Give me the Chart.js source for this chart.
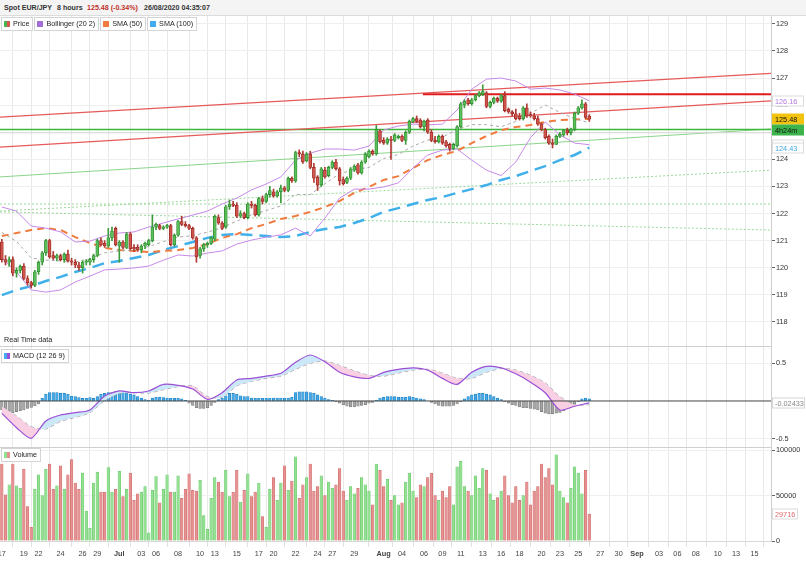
<!DOCTYPE html>
<html lang="en">
<head>
<meta charset="UTF-8">
<title>Spot EUR/JPY</title>
<script src="https://cdn.jsdelivr.net/npm/chart.js@4.4.1/dist/chart.umd.min.js"></script>
<style>
  body { margin: 0; width: 806px; height: 561px; overflow: hidden; position: relative; background: #fff;
         font-family: "Liberation Sans", Arial, sans-serif; color: #222; }
  canvas { position: absolute; left: 0; }
  .hdr { position: absolute; left: 0; top: 0; width: 806px; height: 15px; background: #f4f4f4;
         border-bottom: 1px solid #dcdcdc; font-size: 7.1px; font-weight: bold; line-height: 16px; color: #333; z-index: 3; }
  .hdr span { position: absolute; top: 0; }
  .lgrow { position: absolute; left: 1px; display: flex; gap: 1px; z-index: 3; }
  .lg { height: 12px; border: 1px solid #d4d4d4; background: #fff; font-size: 7.2px; line-height: 12px;
        padding: 0 3px 0 2px; display: flex; align-items: center; color: #222; }
  .ic { width: 6px; height: 6px; margin-right: 3px; display: inline-block; }
  .sep { position: absolute; left: 0; width: 771px; height: 1px; background: #cfcfcf; z-index: 2; }
  .note { position: absolute; left: 4px; top: 335px; font-size: 7.2px; color: #222; z-index: 3; }
</style>
</head>
<body>
<div class="hdr">
  <span style="left:4px">Spot EUR/JPY</span>
  <span style="left:57px">8 hours</span>
  <span style="left:87px;color:#c0302a">125.48 (-0.34%)</span>
  <span style="left:144px">26/08/2020 04:35:07</span>
</div>

<canvas id="priceChart" width="806" height="330" style="top:16px"></canvas>
<canvas id="macdChart" width="806" height="101" style="top:346px"></canvas>
<canvas id="volumeChart" width="806" height="114" style="top:447px"></canvas>

<div class="lgrow" style="top:17px">
  <span class="lg"><i class="ic" style="background:linear-gradient(90deg,#4caf50 50%,#d9534f 50%)"></i>Price</span>
  <span class="lg"><i class="ic" style="background:#a070d8"></i>Bollinger (20 2)</span>
  <span class="lg"><i class="ic" style="background:#f07b3f"></i>SMA (50)</span>
  <span class="lg"><i class="ic" style="background:#45aaf2"></i>SMA (100)</span>
</div>
<div class="note">Real Time data</div>
<div class="sep" style="top:346px"></div>
<div class="lgrow" style="top:349px">
  <span class="lg"><i class="ic" style="background:linear-gradient(90deg,#45aaf2 50%,#9b4fd6 50%)"></i>MACD (12 26 9)</span>
</div>
<div class="sep" style="top:447px"></div>
<div class="lgrow" style="top:448px">
  <span class="lg"><i class="ic" style="background:linear-gradient(90deg,#8fe08f 50%,#e59090 50%)"></i>Volume</span>
</div>

<script>
// 8-hour candles, one slot each, Jun 17 -> Aug 26 2020
const priceOpen = [
  120.95, 120.3, 120.2, 120.3, 119.8, 119.9, 120.05, 119.6, 119.45, 119.35,
  119.85, 120.2, 120.55, 121.0, 120.45, 120.35, 120.45, 120.3, 120.5, 120.25,
  120.2, 120.1, 120.0, 120.2, 120.2, 120.3, 120.45, 121.0, 120.9, 120.8,
  121.1, 121.45, 120.8, 120.95, 120.75, 121.25, 120.75, 120.75, 120.65, 120.8,
  120.85, 121.0, 121.5, 121.55, 121.45, 121.5, 121.55, 120.85, 121.2, 121.7,
  121.6, 121.55, 121.45, 121.1, 120.45, 120.7, 120.85, 120.9, 121.05, 121.85,
  121.65, 121.5, 122.25, 122.35, 122.3, 121.9, 122.0, 121.85, 122.35, 122.3,
  121.95, 122.55, 122.45, 122.7, 122.8, 122.65, 122.8, 122.95, 122.85, 123.3,
  123.2, 124.25, 124.2, 123.95, 124.2, 123.7, 123.35, 123.05, 123.6, 123.4,
  123.7, 123.9, 123.65, 123.25, 123.15, 123.3, 123.6, 123.8, 123.5, 123.9,
  124.1, 124.3, 124.2, 125.05, 124.7, 124.6, 124.75, 124.7, 124.8, 124.85,
  124.7, 125.0, 125.4, 125.5, 125.45, 125.2, 125.45, 125.0, 124.7, 124.65,
  124.85, 124.65, 124.55, 124.4, 124.5, 125.2, 126.0, 126.2, 126.05, 126.2,
  126.35, 126.4, 126.45, 125.95, 126.1, 126.25, 126.15, 126.35, 125.85, 125.75,
  125.68, 125.6, 125.5, 125.9, 125.65, 125.6, 125.5, 125.3, 125.1, 124.85,
  124.6, 124.55, 124.85, 124.9, 125.08, 124.98, 125.1, 125.7, 125.9, 126.05, 125.6
];
const priceHigh = [
  121.05, 120.45, 120.4, 120.4, 120.0, 120.1, 120.15, 119.7, 119.5, 119.9,
  120.25, 120.6, 121.05, 121.05, 120.6, 120.5, 120.5, 120.55, 120.65, 120.35,
  120.3, 120.2, 120.25, 120.3, 120.35, 120.5, 121.05, 121.1, 121.0, 121.45,
  121.5, 121.5, 121.0, 121.0, 121.3, 121.3, 120.85, 120.85, 120.85, 120.95,
  121.05, 121.95, 121.65, 121.6, 121.55, 121.6, 121.6, 121.25, 121.75, 121.9,
  121.7, 121.6, 121.5, 121.15, 120.75, 120.9, 120.95, 121.15, 121.95, 121.95,
  121.7, 122.3, 122.5, 122.45, 122.4, 122.1, 122.05, 122.4, 122.45, 122.35,
  122.6, 122.65, 122.75, 123.0, 122.9, 122.85, 123.05, 123.0, 123.35, 123.35,
  124.3, 124.35, 124.3, 124.25, 124.3, 123.85, 123.4, 123.7, 123.7, 123.75,
  123.95, 124.0, 123.7, 123.35, 123.35, 123.7, 123.8, 123.85, 123.95, 124.25,
  124.35, 124.35, 125.25, 125.1, 124.8, 124.8, 124.85, 124.95, 124.9, 124.9,
  125.05, 125.45, 125.55, 125.6, 125.5, 125.45, 125.5, 125.1, 124.85, 124.9,
  124.9, 124.7, 124.6, 124.6, 125.25, 126.1, 126.2, 126.25, 126.25, 126.4,
  126.5, 126.75, 126.5, 126.15, 126.3, 126.3, 126.4, 126.5, 125.9, 125.8,
  125.85, 125.7, 125.95, 126.05, 125.75, 125.7, 125.6, 125.35, 125.15, 124.9,
  124.75, 124.9, 125.0, 125.1, 125.15, 125.15, 125.75, 125.95, 126.2, 126.1, 125.65
];
const priceLow = [
  120.2, 120.1, 120.05, 119.7, 119.65, 119.8, 119.55, 119.35, 119.25, 119.3,
  119.75, 120.1, 120.45, 120.35, 120.3, 120.25, 120.25, 120.2, 120.2, 120.1,
  120.0, 119.9, 119.8, 120.1, 120.1, 120.2, 120.4, 120.8, 120.75, 120.75,
  121.0, 120.8, 120.2, 120.7, 120.7, 120.65, 120.6, 120.6, 120.55, 120.7,
  120.8, 120.95, 121.4, 121.4, 121.4, 121.45, 120.8, 120.8, 121.15, 121.55,
  121.5, 121.4, 121.05, 120.2, 120.35, 120.6, 120.75, 120.85, 121.0, 121.6,
  121.4, 121.45, 122.15, 122.25, 121.85, 121.85, 121.8, 121.8, 122.2, 121.9,
  121.9, 122.35, 122.4, 122.6, 122.6, 122.6, 122.4, 122.8, 122.8, 123.15,
  123.15, 124.1, 123.85, 123.9, 123.65, 123.15, 122.85, 123.0, 123.3, 123.35,
  123.65, 123.6, 123.05, 123.05, 123.1, 123.25, 123.55, 123.45, 123.45, 123.85,
  124.05, 124.15, 124.15, 124.6, 124.55, 124.55, 124.0, 124.65, 124.75, 124.65,
  124.55, 124.95, 125.35, 125.35, 125.15, 125.05, 124.95, 124.65, 124.6, 124.6,
  124.55, 124.45, 124.3, 124.35, 124.45, 125.15, 125.9, 126.0, 126.0, 126.15,
  126.3, 126.35, 125.9, 125.9, 126.05, 126.1, 126.1, 125.75, 125.7, 125.6,
  125.45, 125.45, 125.45, 125.55, 125.55, 125.45, 125.25, 125.05, 124.75, 124.55,
  124.42, 124.55, 124.8, 124.85, 124.9, 124.9, 125.05, 125.65, 125.85, 125.5, 125.4
];
const priceClose = [
  120.3, 120.2, 120.3, 119.8, 119.9, 120.05, 119.6, 119.45, 119.35, 119.85,
  120.2, 120.55, 121.0, 120.4, 120.35, 120.45, 120.3, 120.5, 120.25, 120.2,
  120.1, 120.0, 120.2, 120.25, 120.3, 120.45, 121.0, 120.85, 120.8, 121.1,
  121.35, 120.85, 120.95, 120.75, 121.25, 120.7, 120.7, 120.65, 120.8, 120.9,
  121.0, 121.5, 121.6, 121.45, 121.5, 121.55, 120.85, 121.2, 121.7, 121.6,
  121.55, 121.45, 121.1, 120.4, 120.7, 120.85, 120.9, 121.1, 121.9, 121.65,
  121.45, 122.25, 122.35, 122.3, 121.9, 122.0, 121.85, 122.35, 122.3, 121.95,
  122.55, 122.45, 122.7, 122.85, 122.65, 122.8, 122.95, 122.85, 123.3, 123.2,
  124.25, 124.2, 123.9, 124.2, 123.7, 123.3, 123.05, 123.65, 123.35, 123.7,
  123.9, 123.65, 123.2, 123.1, 123.3, 123.65, 123.75, 123.5, 123.9, 124.2,
  124.3, 124.2, 125.1, 124.65, 124.6, 124.75, 124.7, 124.9, 124.85, 124.7,
  125.0, 125.4, 125.5, 125.4, 125.2, 125.4, 125.0, 124.7, 124.65, 124.85,
  124.6, 124.5, 124.4, 124.55, 125.2, 126.05, 126.15, 126.05, 126.2, 126.35,
  126.45, 126.5, 125.95, 126.1, 126.25, 126.15, 126.35, 125.8, 125.75, 125.68,
  125.5, 125.5, 125.9, 125.6, 125.6, 125.5, 125.3, 125.1, 124.8, 124.6,
  124.55, 124.85, 124.92, 125.08, 124.98, 125.12, 125.7, 125.9, 126.05, 125.55, 125.48
];
const volume = [
  85000, 51000, 62000, 85000, 61000, 58000, 79000, 38000, 15000, 57000,
  73000, 50000, 79000, 85000, 57000, 61000, 83000, 57000, 73000, 90000,
  64000, 57000, 75000, 33000, 14000, 64000, 76000, 54000, 54000, 81000,
  54000, 57000, 77000, 49000, 57000, 75000, 45000, 52000, 54000, 60000,
  9000, 56000, 71000, 42000, 57000, 73000, 54000, 54000, 72000, 47000,
  57000, 74000, 56000, 55000, 67000, 28000, 13000, 47000, 70000, 65000,
  54000, 78000, 49000, 54000, 78000, 43000, 56000, 74000, 49000, 54000,
  64000, 27000, 15000, 57000, 70000, 45000, 64000, 83000, 56000, 66000,
  93000, 47000, 62000, 70000, 85000, 55000, 60000, 72000, 50000, 65000,
  58000, 62000, 80000, 55000, 45000, 60000, 52000, 58000, 70000, 62000,
  55000, 40000, 85000, 78000, 60000, 68000, 45000, 50000, 40000, 42000,
  65000, 75000, 55000, 48000, 62000, 60000, 70000, 75000, 50000, 45000,
  55000, 48000, 60000, 40000, 82000, 88000, 60000, 55000, 50000, 72000,
  58000, 80000, 78000, 52000, 45000, 48000, 55000, 72000, 50000, 42000,
  60000, 45000, 50000, 65000, 40000, 55000, 60000, 85000, 70000, 80000,
  62000, 95000, 55000, 48000, 42000, 58000, 82000, 75000, 52000, 78000, 29716
];
const macdHist = [
  -0.12, -0.14, -0.13, -0.155, -0.14, -0.13, -0.12, -0.1, -0.085, -0.066, -0.04,
  0.035, 0.09, 0.11, 0.11, 0.11, 0.1, 0.1, 0.09, 0.066, 0.057, 0.044, 0.035, 0.035, 0.044,
  0.035, 0.057, 0.09, 0.1, 0.11, 0.11, 0.124, 0.124, 0.124, 0.11, 0.09, 0.08, 0.057, 0.035, 0.02, 0.01,
  0.04, 0.05, 0.05, 0.045, 0.04, 0.035, 0.035, 0.035, 0.03, 0.01,
  -0.03, -0.06, -0.09, -0.1, -0.1, -0.09, -0.06, -0.02,
  0.02, 0.04, 0.07, 0.1, 0.1, 0.09, 0.07, 0.06, 0.06, 0.04, 0.035, 0.035, 0.035, 0.035,
  0.04, 0.04, 0.04, 0.04, 0.035, 0.04, 0.05, 0.11, 0.12,
  0.12, 0.12, 0.11, 0.1, 0.08, 0.06, 0.04, 0.02, 0.01, -0.01,
  -0.03, -0.05, -0.07, -0.08, -0.08, -0.07, -0.06, -0.05, -0.03, -0.02, 0.01, 0.04,
  0.05, 0.06, 0.06, 0.06, 0.05, 0.05, 0.05, 0.06, 0.05, 0.04, 0.03, 0.02, 0.0, -0.02, -0.04, -0.06, -0.07, -0.07,
  -0.07, -0.06, -0.04, -0.01, 0.03, 0.06,
  0.08, 0.09, 0.1, 0.1, 0.09, 0.08, 0.06, 0.04, 0.02,
  -0.01, -0.03, -0.05, -0.06, -0.08, -0.09, -0.09, -0.1, -0.11, -0.12, -0.14, -0.16, -0.17, -0.17,
  -0.16, -0.15, -0.13, -0.1, -0.07, -0.04, -0.01,
  0.03, 0.04, 0.03
];

// indicator lines, read every 4 slots
const sampleSlots = [0, 4, 8, 12, 16, 20, 24, 28, 32, 36, 40, 44, 48, 52, 56, 60, 64, 68, 72, 76,
  80, 84, 88, 92, 96, 100, 104, 108, 112, 116, 120, 124, 128, 132, 136, 140, 144, 148, 152, 156, 160];
const bbUpper = [122.24, 122.09, 121.54, 121.46, 121.32, 120.95, 120.98, 121.17, 121.28, 121.32,
  121.5, 121.65, 121.8, 121.94, 122.09, 122.35, 122.57, 122.87, 123.09, 123.35,
  123.97, 124.23, 124.38, 124.38, 124.34, 124.49, 125.08, 125.23, 125.3, 125.27,
  125.3, 125.82, 126.59, 126.96, 127.0, 126.89, 126.59, 126.63, 126.56, 126.41, 126.16];
const bbMiddle = [121.3, 120.97, 120.36, 120.28, 120.25, 120.21, 120.33, 120.55, 120.62, 120.65,
  120.78, 120.96, 121.13, 121.18, 121.31, 121.48, 121.72, 121.95, 122.11, 122.28,
  122.71, 122.7, 123.1, 123.47, 123.62, 123.7, 124.03, 124.18, 124.49, 124.71,
  124.82, 125.1, 125.28, 125.28, 125.2, 125.4, 125.7, 126.0, 125.73, 125.5, 125.35];
const bbLower = [120.36, 119.84, 119.18, 119.1, 119.18, 119.47, 119.69, 119.92, 119.95, 119.99,
  120.06, 120.28, 120.47, 120.43, 120.54, 120.62, 120.87, 121.02, 121.13, 121.21,
  121.46, 121.17, 121.83, 122.57, 122.9, 122.9, 122.98, 123.13, 123.68, 124.16,
  124.34, 124.38, 123.97, 123.6, 123.4, 123.9, 124.8, 125.38, 124.9, 124.6, 124.54];
const sma50 = [121.17, 121.28, 121.39, 121.46, 121.39, 121.13, 120.91, 120.73, 120.65, 120.62,
  120.58, 120.62, 120.65, 120.73, 120.87, 121.1, 121.24, 121.46, 121.61, 121.8,
  121.91, 122.06, 122.24, 122.46, 122.76, 122.98, 123.24, 123.38, 123.68, 123.97,
  124.16, 124.31, 124.6, 124.86, 125.08, 125.19, 125.27, 125.38, 125.45, 125.47, 125.49];
const sma100 = [118.99, 119.18, 119.32, 119.51, 119.66, 119.84, 119.99, 120.17, 120.25, 120.36,
  120.47, 120.65, 120.8, 120.95, 121.1, 121.21, 121.24, 121.21, 121.17, 121.13,
  121.17, 121.32, 121.43, 121.5, 121.65, 121.83, 122.06, 122.2, 122.35, 122.5,
  122.61, 122.76, 122.9, 123.05, 123.24, 123.38, 123.57, 123.75, 123.97, 124.16, 124.43];
const macdLine = [-0.164, -0.354, -0.495, -0.265, -0.186, -0.155, -0.119, 0.066, 0.133, 0.11,
  0.133, 0.221, 0.208, 0.159, 0.022, 0.11, 0.279, 0.3, 0.33, 0.367,
  0.513, 0.61, 0.52, 0.38, 0.32, 0.3, 0.38, 0.42, 0.44, 0.41,
  0.3, 0.22, 0.38, 0.46, 0.44, 0.36, 0.25, 0.11, -0.12, -0.07, -0.024];
const macdSignal = [-0.07, -0.2, -0.34, -0.37, -0.27, -0.217, -0.155, 0.004, 0.1, 0.11,
  0.106, 0.15, 0.19, 0.2, 0.057, 0.049, 0.2, 0.26, 0.3, 0.33,
  0.42, 0.5, 0.53, 0.47, 0.4, 0.34, 0.33, 0.37, 0.41, 0.42,
  0.37, 0.3, 0.3, 0.38, 0.43, 0.41, 0.34, 0.24, 0.06, -0.05, -0.05];

// drawn trend lines: [slotFrom, priceFrom, slotTo, priceTo]
const redChannelTop = [-0.5, 125.56, 209.5, 127.17];
const redChannelBottom = [-0.5, 124.45, 209.5, 126.16];
const redResistance = [114.7, 126.4, 209.5, 126.4];
const greenLevel = [-0.5, 125.1, 209.5, 125.1];
const greyLevel = [-0.5, 124.98, 209.5, 124.98];
const greenTrend = [-0.5, 123.35, 209.5, 125.12];
const dottedRise = [-0.5, 122.09, 209.5, 123.6];
const dottedFlat = [-0.5, 122.35, 209.5, 122.35];
const dottedFall = [-0.5, 122.06, 209.5, 121.39];

const xTickSlots = [0, 6, 10, 16, 22, 26, 32, 38, 42, 48, 54, 58, 64, 70, 74, 80, 86, 90, 96,
  104, 109, 115, 120, 125, 131, 136, 141, 147, 152, 157, 163, 168, 173, 179, 184, 189, 195, 200, 205];
const xTickLabels = ['17', '19', '22', '24', '26', '29', 'Jul', '03', '06', '08', '10', '13', '15', '17', '20', '22', '24', '27', '29',
  'Aug', '04', '06', '09', '11', '13', '16', '18', '20', '23', '25', '27', '30', 'Sep', '03', '06', '08', '10', '13', '15'];
const priceTicks = [118, 119, 120, 121, 122, 123, 124, 125, 126, 127, 128, 129];
const macdTicks = [-0.5, 0.5];
const volumeTicks = [0, 50000, 100000];

const FONT = '"Liberation Sans", Arial, sans-serif';
const X_MIN = -0.5, X_MAX = 209.5;

const up = priceClose.map((c, i) => c >= priceOpen[i]);
const pts = arr => sampleSlots.map((s, i) => ({ x: s, y: arr[i] }));
const seg = a => [{ x: a[0], y: a[1] }, { x: a[2], y: a[3] }];

function xAxis(showLabels) {
  return {
    type: 'linear', min: X_MIN, max: X_MAX, offset: false,
    afterBuildTicks: s => { s.ticks = xTickSlots.map(v => ({ value: v })); },
    afterFit: s => { s.paddingLeft = 0; s.paddingRight = 0; s.height = showLabels ? 20 : 0; },
    grid: { color: '#e8e8e8', drawTicks: showLabels, tickLength: 6, tickColor: '#e2e2e2' },
    border: { display: showLabels, color: '#d8d8d8' },
    ticks: {
      display: showLabels, autoSkip: false, maxRotation: 0, padding: 3, color: '#444',
      font: c => ({ family: FONT, size: 7.3, weight: /^[A-Z]/.test(xTickLabels[c.index] || '') ? 'bold' : 'normal' }),
      callback: (v, i) => xTickLabels[i]
    }
  };
}

function yAxis(min, max, tickVals) {
  return {
    position: 'right', min, max,
    afterBuildTicks: s => { s.ticks = tickVals.map(v => ({ value: v })); },
    afterFit: s => { s.width = 35; s.paddingTop = 0; s.paddingBottom = 0; },
    grid: { color: '#efefef', drawTicks: true, tickLength: 4, tickColor: '#666' },
    border: { color: '#cfcfcf' },
    ticks: { padding: 1, color: '#333', font: { family: FONT, size: 7.3 }, callback: v => String(v) }
  };
}

function badges(items) {
  return {
    id: 'badges',
    afterDraw(chart) {
      const ctx = chart.ctx, sc = chart.scales.y, x = chart.chartArea.right + 1;
      ctx.save();
      ctx.font = '7.3px ' + FONT;
      ctx.textBaseline = 'middle';
      items.forEach(b => {
        const y = Math.round(sc.getPixelForValue(b.value));
        const w = b.w || 32;
        ctx.fillStyle = b.bg;
        ctx.fillRect(x, y - 5.5, w, 11);
        if (b.border) {
          ctx.strokeStyle = b.border; ctx.lineWidth = 1;
          ctx.strokeRect(x + 0.5, y - 5, w - 1, 10);
        }
        ctx.fillStyle = b.color;
        ctx.fillText(b.text, x + 3, y + 0.5);
      });
      ctx.restore();
    }
  };
}

const common = {
  responsive: false, animation: false, events: [],
  layout: { padding: 0 },
  plugins: { legend: { display: false }, tooltip: { enabled: false } }
};

const lineDs = (data, color, width, dash) => ({
  type: 'line', data, borderColor: color, borderWidth: width, borderDash: dash || [],
  pointRadius: 0, fill: false, tension: 0
});

// price pane
new Chart(document.getElementById('priceChart'), {
  type: 'bar',
  data: {
    datasets: [
      { data: priceOpen.map((o, i) => ({ x: i, y: [o, priceClose[i]] })), grouped: false,
        barThickness: 3, minBarLength: 1, borderWidth: 0.8, borderSkipped: false,
        backgroundColor: up.map(u => u ? '#5cbf5c' : '#d0544c'),
        borderColor: up.map(u => u ? '#2e8b2e' : '#9c2a24') },
      { data: priceHigh.map((h, i) => ({ x: i, y: [priceLow[i], h] })), grouped: false,
        barThickness: 1, borderWidth: 0,
        backgroundColor: up.map(u => u ? '#3d9b3d' : '#b03a33') },
      lineDs(pts(bbUpper), '#c68ae8', 1),
      lineDs(pts(bbLower), '#c68ae8', 1),
      lineDs(pts(bbMiddle), '#a9a9a9', 1, [3, 3]),
      lineDs(pts(sma50), '#f07b3f', 2, [7, 5]),
      lineDs(pts(sma100), '#3fb0ea', 2.5, [12, 7]),
      lineDs(seg(redResistance), '#e01b1b', 2),
      lineDs(seg(redChannelTop), '#e65a5a', 1.2),
      lineDs(seg(redChannelBottom), '#e65a5a', 1.2),
      lineDs(seg(greenLevel), '#3cb83c', 1.5),
      lineDs(seg(greyLevel), '#d6d6d6', 1),
      lineDs(seg(greenTrend), '#8ad48a', 1),
      lineDs(seg(dottedRise), '#9ad89a', 1, [2, 2]),
      lineDs(seg(dottedFlat), '#9ad89a', 1, [2, 2]),
      lineDs(seg(dottedFall), '#9ad89a', 1, [2, 2])
    ]
  },
  options: Object.assign({}, common, {
    scales: { x: xAxis(false), y: yAxis(117.11, 129.29, priceTicks) }
  }),
  plugins: [badges([
    { value: 126.16, text: '126.16', color: '#b57be0', bg: '#fff', border: '#dcdcdc' },
    { value: 125.48, text: '125.48', color: '#111', bg: '#f2c40f' },
    { value: 125.08, text: '4h24m', color: '#111', bg: '#3cb44b' },
    { value: 124.54, text: '124.54', color: '#b57be0', bg: '#fff', border: '#dcdcdc' },
    { value: 124.43, text: '124.43', color: '#3fa6e0', bg: '#fff', border: '#dcdcdc' }
  ])]
});

// MACD pane
new Chart(document.getElementById('macdChart'), {
  type: 'bar',
  data: {
    datasets: [
      lineDs(seg([X_MIN, 0, X_MAX, 0]), '#444', 1),
      Object.assign(lineDs(pts(macdLine), '#9b4fd6', 1.2),
        { fill: { target: 2, above: '#cbe8f8', below: '#f9d0e3' }, tension: 0.25 }),
      Object.assign(lineDs(pts(macdSignal), '#9a9a9a', 1, [4, 3]), { tension: 0.25 }),
      { data: macdHist.map((v, i) => ({ x: i, y: v })), barThickness: 2.6, borderWidth: 0.6,
        backgroundColor: macdHist.map(v => v >= 0 ? '#45aae6' : '#a6a6a6'),
        borderColor: macdHist.map(v => v >= 0 ? '#1f7fc0' : '#777') }
    ]
  },
  options: Object.assign({}, common, {
    scales: { x: xAxis(false), y: yAxis(-0.61, 0.729, macdTicks) }
  }),
  plugins: [badges([
    { value: -0.024, text: '-0.02433', color: '#888', bg: '#fff', border: '#d6d6d6', w: 33 }
  ])]
});

// volume pane
new Chart(document.getElementById('volumeChart'), {
  type: 'bar',
  data: {
    datasets: [
      { data: volume.map((v, i) => ({ x: i, y: v })), barThickness: 2.6, borderWidth: 0.5,
        backgroundColor: up.map(u => u ? '#93e093' : '#e69292'),
        borderColor: up.map(u => u ? '#62c462' : '#cc6464') }
    ]
  },
  options: Object.assign({}, common, {
    scales: { x: xAxis(true), y: yAxis(0, 103750, volumeTicks) }
  }),
  plugins: [badges([
    { value: 29716, text: '29716', color: '#e06a6a', bg: '#fff', border: '#dcdcdc', w: 26 }
  ])]
});
</script>
</body>
</html>
